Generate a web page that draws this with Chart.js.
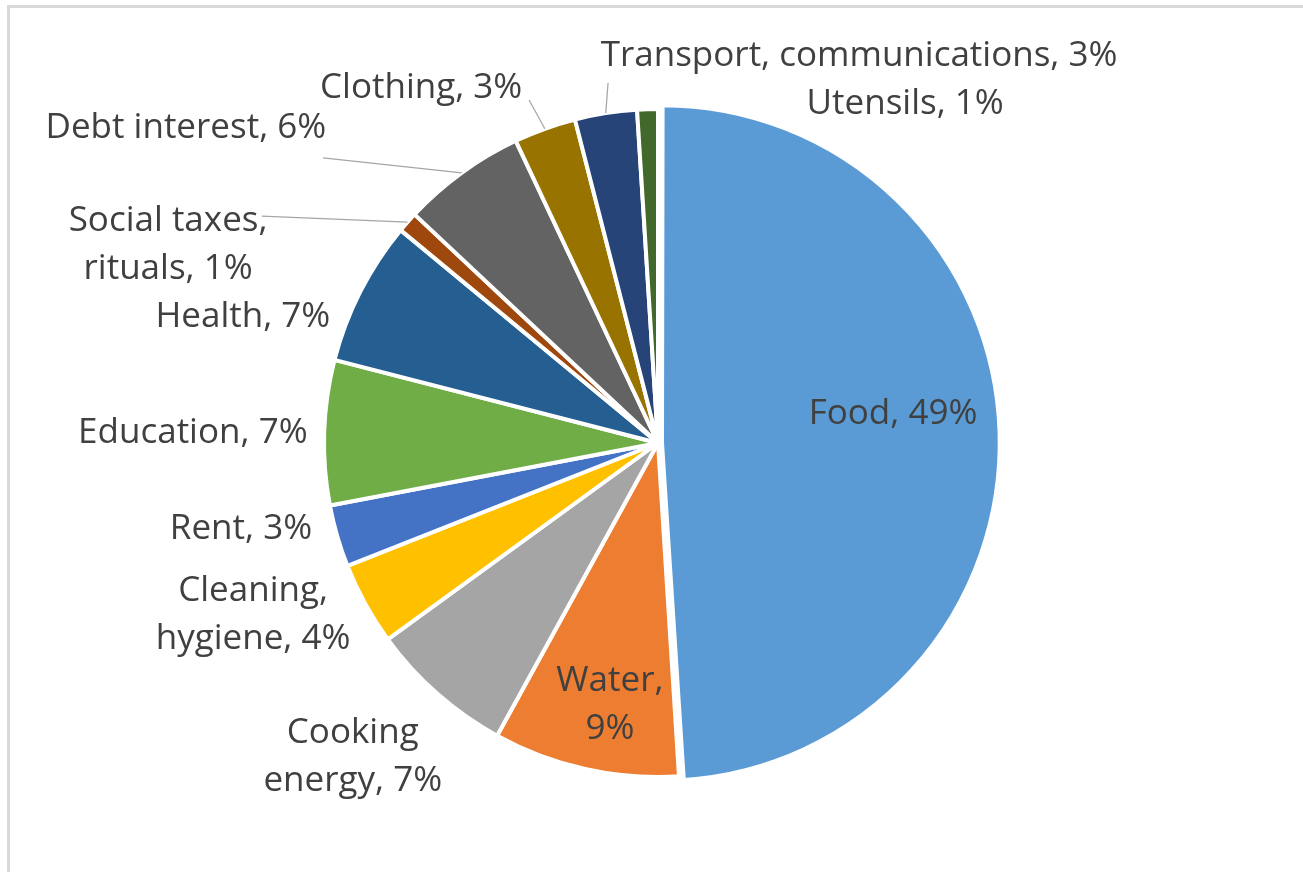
<!DOCTYPE html>
<html>
<head>
<meta charset="utf-8">
<title>Household expenditure shares</title>
<script src="https://cdn.jsdelivr.net/npm/chart.js@4.4.1/dist/chart.umd.min.js"></script>
<style>
	html, body { margin: 0; padding: 0; background: #fff; overflow: hidden; }
	#frame { position: absolute; left: 7px; top: 5px; width: 1400px; height: 1000px; border: 3px solid #d9d9d9; }
	#myChart { position: absolute; left: 0; top: 0; }
</style>
</head>
<body>
<div id="frame"></div>
<canvas id="myChart" width="1303" height="872"></canvas>
<script>
const categories = [
	'Food',
	'Water',
	'Cooking energy',
	'Cleaning, hygiene',
	'Rent',
	'Education',
	'Health',
	'Social taxes, rituals',
	'Debt interest',
	'Clothing',
	'Transport, communications',
	'Utensils'
];
const shares = [49, 9, 7, 4, 3, 7, 7, 1, 6, 3, 3, 1];

const colors = ['#5B9BD5', '#ED7D31', '#A5A5A5', '#FFC000', '#4472C4', '#70AD47',
	'#255E91', '#9E480E', '#636363', '#997300', '#264478', '#43682B'];

// label placement: [degrees clockwise from 12 o'clock, distance in pie radii]
const labelSpots = [
	[83.0, 0.709], [190.4, 0.798], [224.2, 1.311], [247.0, 1.317],
	[258.3, 1.275], [271.2, 1.393], [286.9, 1.299], [292.0, 1.582],
	[303.7, 1.699], [326.3, 1.278], [27.45, 1.306], [36.1, 1.256]
];
// wrap label after this many words (0 = one line)
const labelBreaks = [0, 1, 1, 1, 0, 0, 0, 2, 0, 0, 0, 0];
// outer end of the leader line for labels that were dragged away
const leaderEnds = [null, null, null, null, null, null, null,
	[299.8, 1.367], [310.4, 1.317], [339.4, 1.097], [352.1, 1.088], null];

const sliceLabels = {
	id: 'sliceLabels',
	afterDatasetsDraw(chart) {
		const c = chart.ctx;
		const arcs = chart.getDatasetMeta(0).data;
		const p0 = arcs[0].getProps(['x', 'y', 'outerRadius'], true);
		const cx = p0.x, cy = p0.y, r = p0.outerRadius;
		const at = (deg, k) => {
			const a = deg * Math.PI / 180;
			return [cx + k * r * Math.sin(a), cy - k * r * Math.cos(a)];
		};
		c.save();

		c.strokeStyle = '#a6a6a6';
		c.lineWidth = 1.25;
		arcs.forEach((arc, i) => {
			if (!leaderEnds[i]) return;
			const p = arc.getProps(['startAngle', 'endAngle'], true);
			const mid = (p.startAngle + p.endAngle) / 2;
			const [x1, y1] = at(leaderEnds[i][0], leaderEnds[i][1]);
			c.beginPath();
			c.moveTo(cx + r * Math.cos(mid), cy + r * Math.sin(mid));
			c.lineTo(x1, y1);
			c.stroke();
		});

		c.fillStyle = '#404040';
		c.font = '35px "Open Sans"';
		c.textAlign = 'center';
		c.textBaseline = 'middle';
		categories.forEach((name, i) => {
			const words = (name + ', ' + shares[i] + '%').split(' ');
			const n = labelBreaks[i];
			const lines = n ? [words.slice(0, n).join(' '), words.slice(n).join(' ')] : [words.join(' ')];
			const [x, y] = at(labelSpots[i][0], labelSpots[i][1]);
			lines.forEach((t, j) => c.fillText(t, x, y + (j - (lines.length - 1) / 2) * 48));
		});
		c.restore();
	}
};

const ctx = document.getElementById('myChart');

new Chart(ctx, {
	type: 'pie',
	data: {
		labels: categories,
		datasets: [{
			data: shares,
			backgroundColor: colors,
			borderColor: '#fff',
			borderWidth: 4,
			// food slice is pulled out a little
			offset: [16, 0, 0, 0, 0, 0, 0, 0, 0, 0, 0, 0],
			hoverOffset: 0
		}]
	},
	options: {
		responsive: false,
		animation: false,
		layout: {
			padding: { top: 99, bottom: 85, left: 150, right: 137 }
		},
		plugins: {
			legend: { display: false },
			tooltip: { enabled: false }
		}
	},
	plugins: [sliceLabels]
});
</script>
</body>
</html>
